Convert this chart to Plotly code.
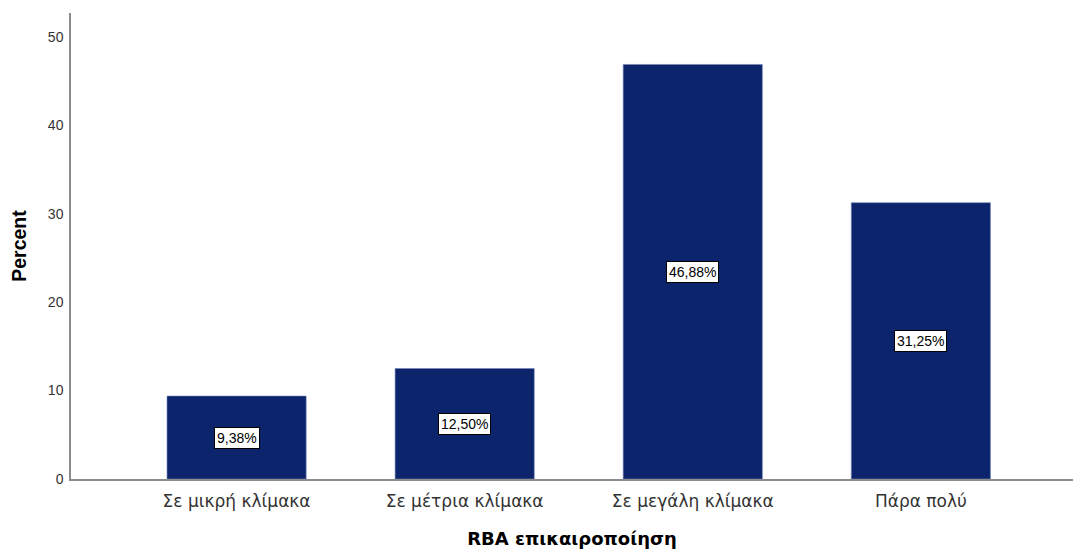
import plotly.graph_objects as go

# Frequency of RBA updates (percent of respondents)
categories = ["Σε μικρή κλίμακα", "Σε μέτρια κλίμακα", "Σε μεγάλη κλίμακα", "Πάρα πολύ"]
percent = [9.38, 12.50, 46.88, 31.25]
y_ticks = [0, 10, 20, 30, 40, 50]

FONT = "Liberation Sans, Arial, sans-serif"
GREEK_FONT = "DejaVu Sans, Liberation Sans, sans-serif"
BAR_COLOR = "#0b246c"

fig = go.Figure()
fig.add_trace(go.Bar(
    x=list(range(len(categories))),
    y=percent,
    width=0.61,
    marker=dict(color=BAR_COLOR, line=dict(color="#6f82b4", width=0.6)),
    hoverinfo="skip",
))

# Value labels in white boxes at half the bar height
for i, v in enumerate(percent):
    fig.add_annotation(
        x=i, y=v / 2, xref="x", yref="y",
        text=f"{v:.2f}".replace(".", ",") + "%",
        showarrow=False,
        font=dict(family=FONT, size=14, color="#000000"),
        bgcolor="#ffffff", bordercolor="#000000", borderwidth=1, borderpad=2,
    )

fig.update_layout(
    width=1073, height=551,
    margin=dict(l=71, r=0, t=13, b=72),
    paper_bgcolor="#ffffff", plot_bgcolor="#ffffff",
    showlegend=False,
    font=dict(family=FONT, color="#333333"),
    xaxis=dict(
        range=[-0.726, 3.667],
        tickmode="array", tickvals=list(range(len(categories))), ticktext=categories,
        tickfont=dict(family=GREEK_FONT, size=17, color="#333333"),
        showgrid=False, zeroline=False, showline=True, linecolor="#8c8c8c", linewidth=1.5,
        ticks="", ticklabelstandoff=6,
        title=dict(text="<b>RBA επικαιροποίηση</b>",
                   font=dict(family=GREEK_FONT, size=18, color="#000000"), standoff=22),
    ),
    yaxis=dict(
        range=[0, 52.7],
        tickmode="array", tickvals=y_ticks,
        tickfont=dict(size=14, color="#333333"),
        showgrid=False, zeroline=False, showline=True, linecolor="#8c8c8c", linewidth=1.5,
        ticks="", ticklabelstandoff=3,
        title=dict(text="<b>Percent</b>", font=dict(size=19.5, color="#000000"), standoff=16),
    ),
)

fig.write_html("out.html")
